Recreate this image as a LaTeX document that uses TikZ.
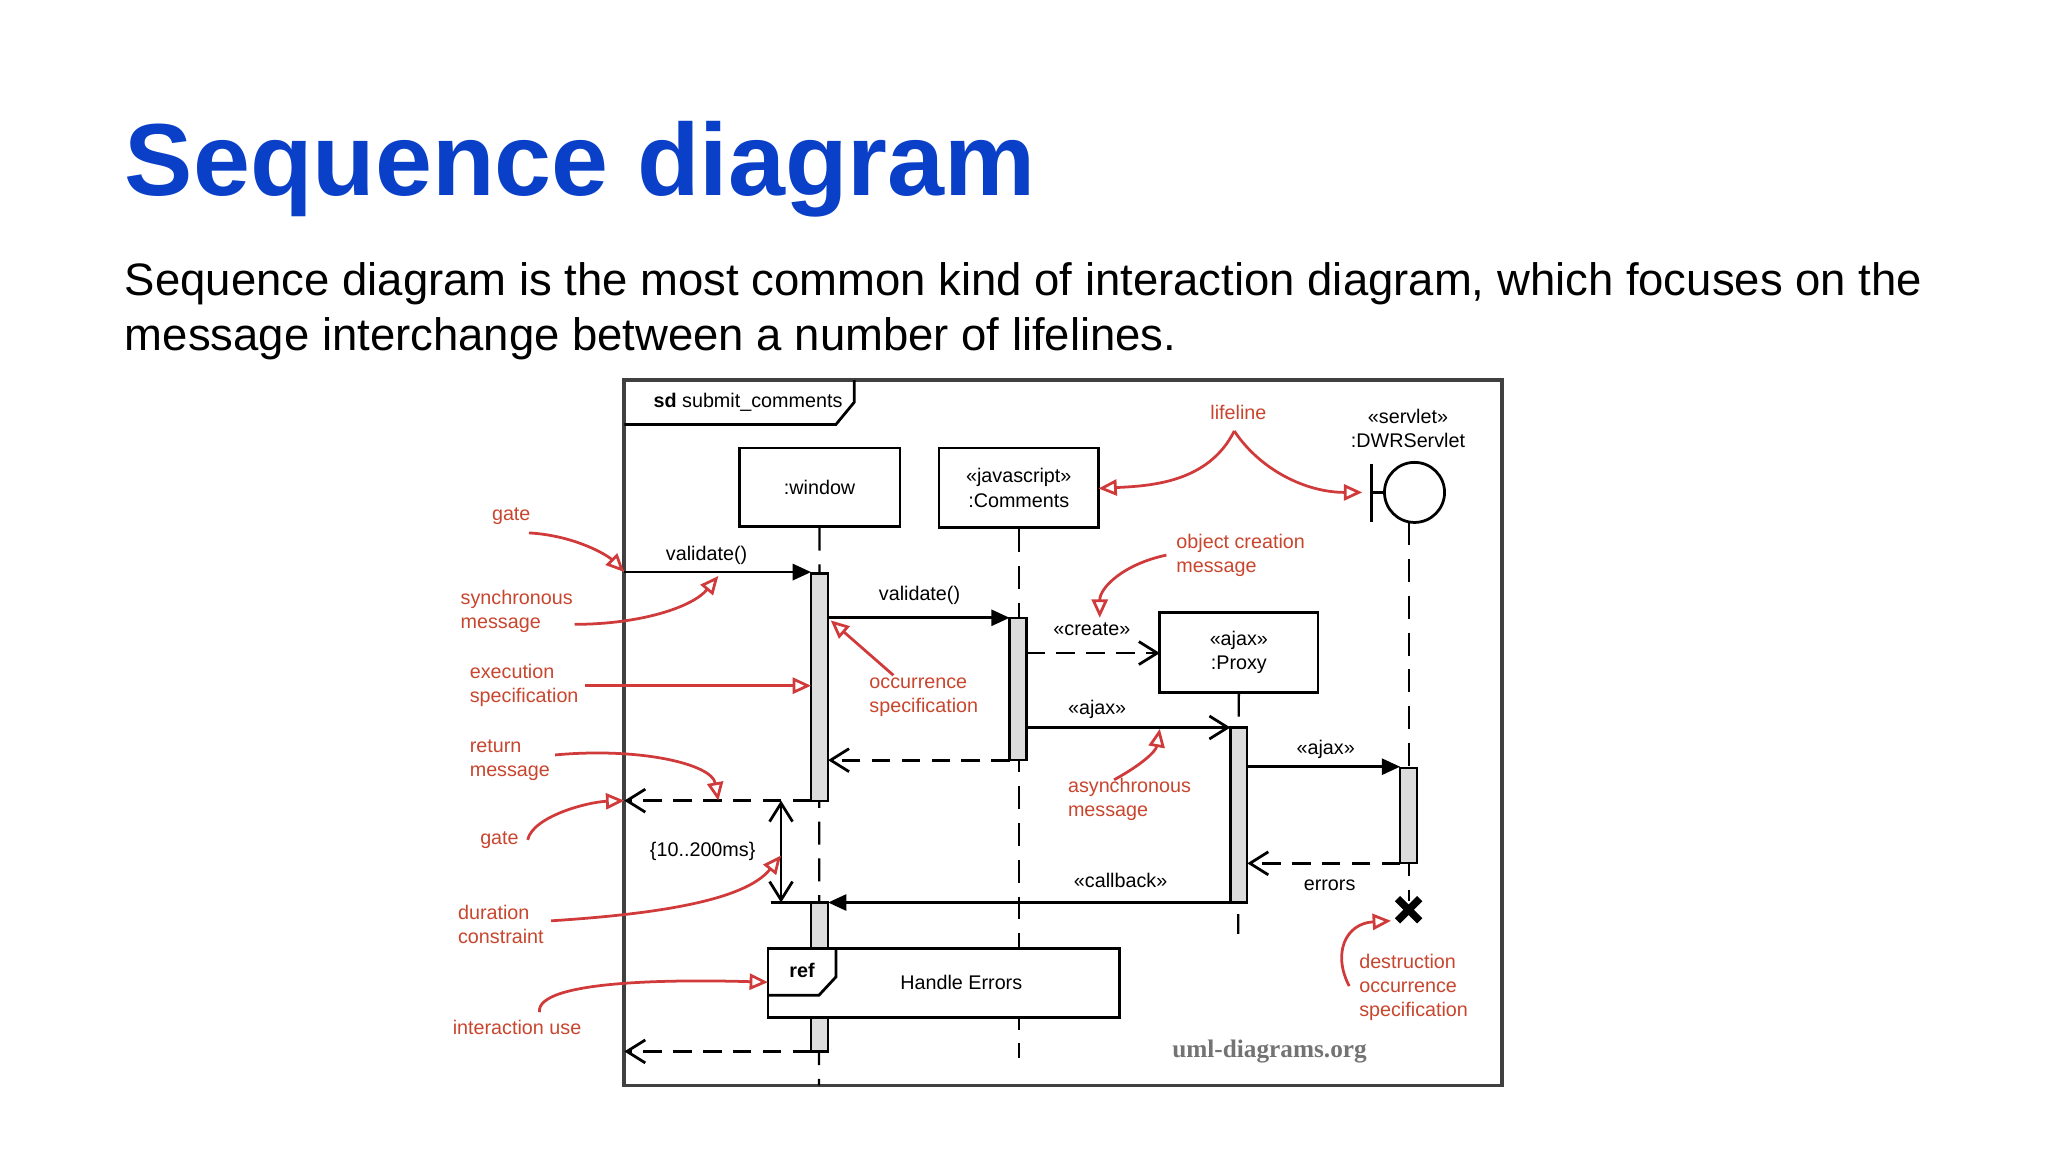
\documentclass[tikz,border=0pt]{standalone}
\usepackage{fontspec}
\setmainfont{Liberation Sans}
\newfontfamily\wmfont{Liberation Serif}
\usetikzlibrary{arrows.meta}
\definecolor{ttl}{HTML}{0A3FC8}
\definecolor{ann}{HTML}{C8452E}
\definecolor{annl}{HTML}{D03A3A}
\definecolor{bar}{HTML}{DCDCDC}
\tikzset{
 x=0.01cm,y=-0.01cm,
 dg/.style={font=\fontsize{4.3}{5.3}\selectfont},
 an/.style={font=\fontsize{4.3}{5.2}\selectfont,text=ann,align=left,anchor=west,inner sep=0},
 objbox/.style={draw,line width=0.6pt,align=center,font=\fontsize{4.3}{5.3}\selectfont},
 actbar/.style={draw,fill=bar,line width=0.5pt},
 life/.style={dash pattern=on 5pt off 3pt,line width=0.5pt},
 sync/.style={line width=0.6pt,-{Triangle[length=4pt,width=3.5pt]}},
 async/.style={line width=0.6pt,-{Straight Barb[length=4pt,width=5pt]}},
 ret/.style={line width=0.6pt,dash pattern=on 4pt off 2.5pt,-{Straight Barb[length=4pt,width=5pt]}},
 aarr/.style={annl,line width=0.6pt,-{Triangle[open,length=4pt,width=3.5pt]}},
}
\begin{document}
\begin{tikzpicture}
\useasboundingbox (0,0) rectangle (1568,882);
\node[anchor=base west,inner sep=0,text=ttl,font=\fontsize{22.3}{26}\bfseries] (title) at (95,150) {Sequence diagram};
\node[anchor=base west,inner sep=0,font=\fontsize{9.9}{12}\selectfont] (l1) at (95,226) {Sequence diagram is the most common kind of interaction diagram, which focuses on the};
\node[anchor=base west,inner sep=0,font=\fontsize{9.9}{12}\selectfont] (l2) at (95,268) {message interchange between a number of lifelines.};
% frame
\draw[line width=0.8pt,draw=black!75] (478,291) rectangle (1150,831);
\draw[line width=0.6pt] (478,325) -- (640,325) -- (654,308) -- (654,291);
\node[dg,anchor=west] (sd) at (488,308) {\textbf{sd} submit\_comments};
% objects
\node[objbox,minimum width=123*0.01cm,minimum height=60*0.01cm] (win) at (627.5,373) {:window};
\node[objbox,minimum width=122*0.01cm,minimum height=61*0.01cm] (com) at (780,373.5) {«javascript»\\:Comments};
\node[objbox,minimum width=121*0.01cm,minimum height=61*0.01cm] (prx) at (948.5,499.5) {«ajax»\\:Proxy};
\node[draw,circle,line width=0.6pt,minimum size=46*0.01cm,inner sep=0] (srv) at (1083,377) {};
\draw[line width=0.6pt] (1050,355) -- (1050,400) (1050,377) -- (srv.west);
\node[dg,align=center] (srvl) at (1078,328) {«servlet»\\:DWRServlet};
% lifelines
\draw[life] (win.south) -- (627,831);
\draw[life] (com.south) -- (780,810);
\draw[life] (prx.south) -- (948,715);
\draw[life] (1079,400) -- (1079,690);
% activations
\node[actbar,minimum width=13*0.01cm,minimum height=174*0.01cm,inner sep=0] (a1) at (627.5,526) {};
\node[actbar,minimum width=13*0.01cm,minimum height=114*0.01cm,inner sep=0] (a2) at (627.5,748) {};
\node[actbar,minimum width=13*0.01cm,minimum height=109*0.01cm,inner sep=0] (a3) at (779.5,527.5) {};
\node[actbar,minimum width=13*0.01cm,minimum height=134*0.01cm,inner sep=0] (a4) at (948.5,624) {};
\node[actbar,minimum width=13*0.01cm,minimum height=73*0.01cm,inner sep=0] (a5) at (1078.5,624.5) {};
% ref
\draw[line width=0.6pt,fill=white] (588,726) rectangle (857,779);
\draw[line width=0.6pt] (588,762) -- (627,762) -- (640,748) -- (640,726);
\node[dg,font=\fontsize{4.3}{5.3}\bfseries] (reft) at (614,743) {ref};
\node[dg] (he) at (736,752) {Handle Errors};
% messages
\coordinate (g1) at (478,438);
\draw[sync] (g1) -- (621,438);
\node[dg] (m1) at (541,425) {validate()};
\draw[sync] (634,473) -- (773,473);
\node[dg] (m2) at (704,456) {validate()};
\draw[async,dash pattern=on 4pt off 2.5pt] (786,500) -- (888,500);
\node[dg] (m3) at (836,482) {«create»};
\draw[async] (786,557) -- (942,557);
\node[dg] (m4) at (840,543) {«ajax»};
\draw[sync] (955,587) -- (1072,587);
\node[dg] (m5) at (1015,574) {«ajax»};
\draw[ret] (773,582) -- (634,582);
\coordinate (g2) at (478,613);
\draw[ret] (621,613) -- (g2);
\draw[ret] (1072,661) -- (955,661);
\node[dg] (err) at (1018,678) {errors};
\draw[sync] (942,691) -- (634,691);
\node[dg] (m6) at (858,674) {«callback»};
\coordinate (g3) at (478,805);
\draw[ret] (621,805) -- (g3);
\draw[line width=1.6pt] (1070,688) -- (1087,705) (1087,688) -- (1070,705);
% duration
\draw[line width=0.5pt] (590,691) -- (621,691);
\draw[line width=0.6pt,{Straight Barb[length=4pt,width=5pt]}-{Straight Barb[length=4pt,width=5pt]}] (598,613) -- (598,691);
\node[dg] (dur) at (538,652) {\{10..200ms\}};
% watermark
\node[text=black!55,font=\wmfont\fontsize{5.5}{6.5}\bfseries] (wm) at (972,805) {uml-diagrams.org};
% annotations
\node[an] (t1) at (376,395) {gate};
\draw[aarr] (405,408) .. controls (440,410) and (465,425) .. (478,438);
\node[an] (t2) at (352,468) {synchronous\\message};
\draw[aarr] (440,478) .. controls (490,478) and (530,465) .. (550,441);
\node[an] (t3) at (359,525) {execution\\specification};
\draw[aarr] (448,525) -- (621,525);
\node[an] (t4) at (359,582) {return\\message};
\draw[aarr] (425,578) .. controls (490,572) and (545,585) .. (550,613);
\node[an] (t5) at (367,643) {gate};
\draw[aarr] (404,643) .. controls (408,625) and (450,614) .. (478,613);
\node[an] (t6) at (350,708) {duration\\constraint};
\draw[aarr] (422,705) .. controls (500,700) and (570,690) .. (598,655);
\node[an] (t7) at (346,787) {interaction use};
\draw[aarr] (413,775) .. controls (410,750) and (520,750) .. (588,752);
\node[an] (t8) at (665,534) {occurrence\\specification};
\draw[aarr] (684,517) -- (636,475);
\node[an] (t9) at (900,425) {object creation\\message};
\draw[aarr] (893,425) .. controls (860,432) and (842,450) .. (842,473);
\node[an] (t10) at (817,612) {asynchronous\\message};
\draw[aarr] (853,597) .. controls (875,585) and (885,575) .. (888,558);
\node[an] (t11) at (926,316) {lifeline};
\draw[aarr] (945,330) .. controls (925,370) and (880,372) .. (841,374);
\draw[aarr] (945,330) .. controls (965,360) and (1000,377) .. (1043,377);
\node[an] (t12) at (1040,756) {destruction\\occurrence\\specification};
\draw[aarr] (1033,755) .. controls (1020,730) and (1030,707) .. (1065,705);
\end{tikzpicture}
\end{document}
